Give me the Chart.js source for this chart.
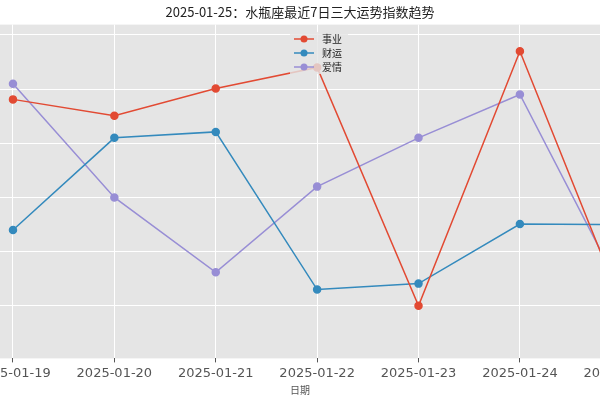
<!DOCTYPE html><html><head><meta charset="utf-8">
<script src="https://cdn.jsdelivr.net/npm/chart.js@4"></script>
<style>body{margin:0;overflow:hidden;background:#fff}#w{position:absolute;left:-60px;top:0;width:720px;height:400px}</style></head>
<body><div id="w"><canvas id="c"></canvas></div><script>
const categories=['2025-01-19','2025-01-20','2025-01-21','2025-01-22','2025-01-23','2025-01-24','2025-01-25'];
const career=[78.1,75.1,80.1,84,40,87,40.4];
const wealth=[54,71,72.1,43,44.1,55.1,55];
const love=[81,60,46.2,62,71,79,42.8];
const names=['事业','财运','爱情'];
const colors=['#E24A33','#348ABD','#988ED5'];
const F='"Noto Sans CJK SC", "DejaVu Sans", sans-serif';
const series=[career,wealth,love];
const bg={id:'bg',beforeDraw(c){const a=c.chartArea,x=c.ctx;x.save();x.fillStyle='#E5E5E5';x.fillRect(a.left,a.top,a.width,a.height);x.restore();},
afterDraw(c){const x=c.ctx;x.save();const lx=350,ly=32;x.fillStyle='rgba(229,229,229,0.8)';x.fillRect(lx,ly,58,42);
x.font='10px '+F;x.textBaseline='middle';
names.forEach((n,i)=>{const y=ly+7+i*14;x.strokeStyle=colors[i];x.lineWidth=1.5;x.beginPath();x.moveTo(lx+4,y);x.lineTo(lx+24,y);x.stroke();
x.fillStyle=colors[i];x.beginPath();x.arc(lx+14,y,3.5,0,7);x.fill();x.fillStyle='#222';x.fillText(n,lx+32,y);});x.restore();}};
new Chart(document.getElementById('c'),{type:'line',
data:{datasets:series.map((s,i)=>({label:names[i],data:s.map((v,j)=>({x:j,y:v})),borderColor:colors[i],backgroundColor:colors[i],borderWidth:1.5,pointRadius:3.5,pointHoverRadius:3.5}))},
options:{animation:false,responsive:true,maintainAspectRatio:false,
layout:{padding:{left:60,right:60,top:0,bottom:0}},
plugins:{legend:{display:false},tooltip:{enabled:false},
title:{display:true,text:'2025-01-25：水瓶座最近7日三大运势指数趋势',color:'#222',font:{family:F,size:13,weight:'normal'},padding:{top:4,bottom:5}}},
scales:{x:{type:'linear',min:-0.128,max:5.79,afterBuildTicks(ax){ax.ticks=categories.map((c,i)=>({value:i}));},
ticks:{autoSkip:false,maxRotation:0,color:'#555',font:{family:'"DejaVu Sans", sans-serif',size:13},callback:(v)=>categories[v]},
grid:{color:'#fff',lineWidth:1,tickColor:'#555',tickLength:4},border:{display:false},
title:{display:true,text:'日期',color:'#555',font:{family:F,size:10},padding:{top:0}}},
y:{min:30.3,max:91.9,afterBuildTicks(ax){ax.ticks=[40,50,60,70,80,90].map(v=>({value:v}));},ticks:{display:false},
grid:{color:'#fff',lineWidth:1,drawTicks:false},border:{display:false}}}},plugins:[bg]});
</script></body></html>
